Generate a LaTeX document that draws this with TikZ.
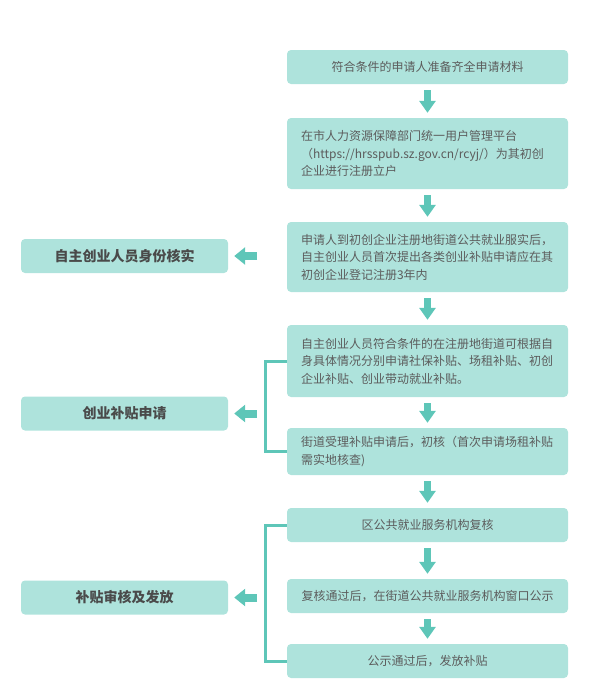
\documentclass[tikz,border=0pt]{standalone}
\usepackage{fontspec}
\newfontfamily\cjk{Noto Sans CJK SC}
\usetikzlibrary{arrows.meta}
\definecolor{boxfill}{HTML}{AEE3DC}
\definecolor{arrowc}{HTML}{5EC6B8}
\definecolor{txt}{HTML}{5C5C5C}
\definecolor{txtdark}{HTML}{4A4A4A}
\tikzset{
  rbox/.style={fill=boxfill, rounded corners=4pt, minimum width=281pt, inner ysep=0pt, inner xsep=14pt, text=txt, font=\cjk\fontsize{12pt}{17.5pt}\selectfont},
  rmulti/.style={rbox, text width=253pt, align=left},
  lbox/.style={fill=boxfill, rounded corners=4pt, minimum width=207pt, minimum height=34pt, inner sep=0pt, text=txtdark, font=\cjk\bfseries\fontsize{14pt}{17pt}\selectfont},
  downarrow/.style={draw=arrowc, line width=7pt, -{Triangle[width=16pt,length=12pt]}, shorten <=6pt, shorten >=5pt},
  leftarrow/.style={draw=arrowc, line width=8pt, -{Triangle[width=17pt,length=11pt]}, shorten >=6pt},
  bracket/.style={draw=arrowc, line width=3pt}
}
\begin{document}
\begin{tikzpicture}[x=1pt,y=-1pt]
\useasboundingbox (0,0) rectangle (589,699);
\node[rbox, minimum height=34pt] (b1) at (427.5,67) {符合条件的申请人准备齐全申请材料};
\node[rmulti, minimum height=71pt] (b2) at (427.5,153.5) {在市人力资源保障部门统一用户管理平台\\（https://hrsspub.sz.gov.cn/rcyj/）为其初创\\企业进行注册立户};
\node[rmulti, minimum height=70pt] (b3) at (427.5,257) {申请人到初创企业注册地街道公共就业服实后，\\自主创业人员首次提出各类创业补贴申请应在其\\初创企业登记注册3年内};
\node[rmulti, minimum height=72pt] (b4) at (427.5,361) {自主创业人员符合条件的在注册地街道可根据自\\身具体情况分别申请社保补贴、场租补贴、初创\\企业补贴、创业带动就业补贴。};
\node[rmulti, minimum height=47pt] (b5) at (427.5,451.5) {街道受理补贴申请后，初核（首次申请场租补贴\\需实地核查)};
\node[rbox, minimum height=34pt] (b6) at (427.5,525) {区公共就业服务机构复核};
\node[rbox, minimum height=34pt] (b7) at (427.5,596) {复核通过后，在街道公共就业服务机构窗口公示};
\node[rbox, minimum height=34pt] (b8) at (427.5,661) {公示通过后，发放补贴};

\node[lbox] (l1) at (124.5,256) {自主创业人员身份核实};
\node[lbox] (l2) at (124.5,413.5) {创业补贴申请};
\node[lbox] (l3) at (124.5,597.5) {补贴审核及发放};

\draw[downarrow] (b1) -- (b2);
\draw[downarrow] (b2) -- (b3);
\draw[downarrow] (b3) -- (b4);
\draw[downarrow] (b4) -- (b5);
\draw[downarrow] (b5) -- (b6);
\draw[downarrow] (b6) -- (b7);
\draw[downarrow] (b7) -- (b8);

\coordinate (t1) at ([xshift=29pt]l1.east);
\coordinate (t2) at ([xshift=29pt]l2.east);
\coordinate (t3) at ([xshift=29pt]l3.east);
\draw[leftarrow] (t1) -- (l1);
\draw[leftarrow] (t2) -- (l2);
\draw[leftarrow] (t3) -- (l3);

\draw[bracket] (b4.west) -- ++(-21,0) |- (b5.west);
\draw[bracket] (b6.west) -- ++(-21,0) |- (b8.west);
\end{tikzpicture}
\end{document}
